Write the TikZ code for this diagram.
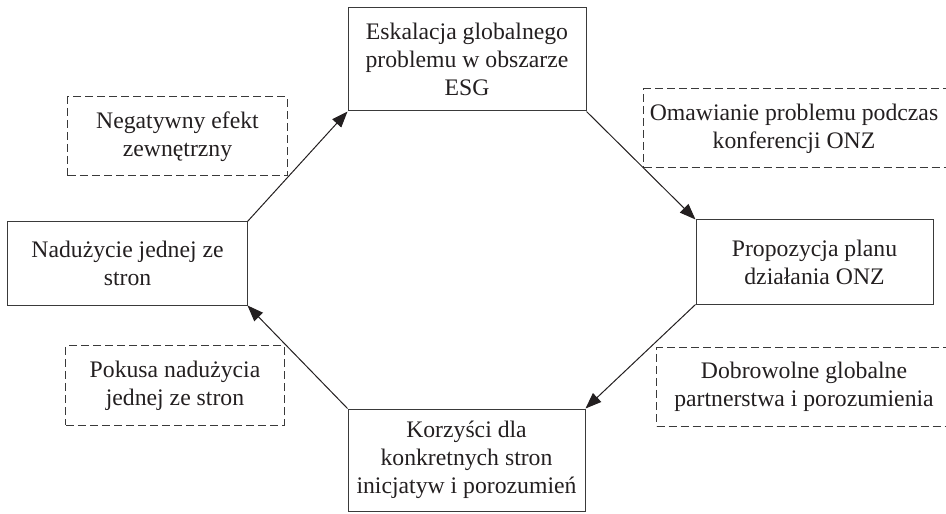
\documentclass[tikz,border=0pt]{standalone}
\usepackage{fontspec}
\setmainfont{Liberation Serif}
\usetikzlibrary{arrows.meta}
\definecolor{ink}{HTML}{231F20}
\definecolor{edge}{HTML}{3A3A3A}

\begin{document}
\begin{tikzpicture}[x=1bp,y=-1bp,
  every node/.style={font=\fontsize{23.8}{28}\selectfont, text=ink, align=center, inner sep=0pt},
  stage/.style={draw=edge, line width=1bp, rectangle},
  note/.style={draw=edge, line width=1bp, dash pattern=on 8bp off 4bp, rectangle},
  flow/.style={draw=ink, line width=1bp, -{Triangle[length=16bp,width=12bp]}}]
\useasboundingbox (0,0) rectangle (946,514);

% main cycle stages
\node[stage, minimum width=238bp, minimum height=103bp] (esg) at (467,59.5)
  {Eskalacja globalnego\\problemu w obszarze\\ESG};
\node[stage, minimum width=237bp, minimum height=84bp] (plan) at (814.5,262)
  {Propozycja planu\\działania ONZ};
\node[stage, minimum width=237bp, minimum height=102bp] (gain) at (466.5,460)
  {Korzyści dla\\konkretnych stron\\inicjatyw i porozumień};
\node[stage, minimum width=239bp, minimum height=83bp] (abuse) at (127.5,263.5)
  {Nadużycie jednej ze\\stron};

% dashed side notes
\node[note, minimum width=219bp, minimum height=79bp] (neg) at (177.5,136.5)
  {Negatywny efekt\\zewnętrzny};
\node[note, minimum width=218bp, minimum height=79bp] (temp) at (175,385.5)
  {Pokusa nadużycia\\jednej ze stron};
\node[note, minimum width=312bp, minimum height=79bp, anchor=west] (confbox) at (643,128.5) {};
\node (conf) at (794,128.5) {Omawianie problemu podczas\\konferencji ONZ};
\node[note, minimum width=300bp, minimum height=78bp, anchor=west] (partbox) at (656,387) {};
\node (part) at (804,387) {Dobrowolne globalne\\partnerstwa i porozumienia};

% cycle arrows, corner to corner
\draw[flow] (abuse.north east) -- (esg.south west);
\draw[flow] (esg.south east) -- (plan.north west);
\draw[flow] (plan.south west) -- (gain.north east);
\draw[flow] (gain.north west) -- (abuse.south east);
\end{tikzpicture}
\end{document}
